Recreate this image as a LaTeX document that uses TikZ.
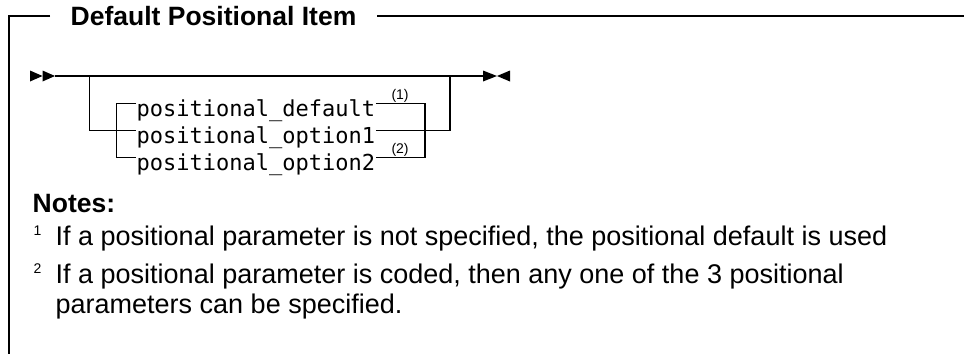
\documentclass[tikz,border=0pt]{standalone}
\usepackage{fontspec}
\setsansfont{Liberation Sans}
\setmonofont{DejaVu Sans Mono}
\usetikzlibrary{positioning}

\begin{document}
\begin{tikzpicture}[x=1pt, y=-1pt, line width=1.4pt]
		% Define styles
		\tikzstyle{heading}=[font=\sffamily\bfseries\fontsize{26.5}{31}\selectfont, inner sep=0pt]
		\tikzstyle{item}=[font=\ttfamily\fontsize{22}{26}\selectfont, inner sep=0pt, text height=30pt, text depth=5pt, anchor=west]
		\tikzstyle{fnref}=[font=\sffamily\fontsize{14}{16}\selectfont, inner sep=0pt]
		\tikzstyle{fnnum}=[font=\sffamily\fontsize{14}{16}\selectfont, inner sep=0pt, anchor=base west]
		\tikzstyle{note}=[font=\sffamily\fontsize{27}{32}\selectfont, inner sep=0pt, anchor=base west]
		\tikzstyle{tip}=[fill=black, draw=none]
		
		\useasboundingbox (0,0) rectangle (964,354);
		
		% Frame with title
		\node[heading, inner xsep=20pt, anchor=west] (title) at (50,16) {Default Positional Item};
		\coordinate (corner) at (9,16);
		\coordinate (foot) at (9,354);
		\coordinate (edge) at (964,16);
		\draw (title.west) -- (corner) -- (foot);
		\draw (title.east) -- (edge);
		
		% Main line
		\coordinate (in) at (55,76);
		\coordinate (out) at (483,76);
		\fill[tip] (30,70.5) -- (42.5,76) -- (30,81.5) -- cycle;
		\fill[tip] (42.5,70.5) -- (in) -- (42.5,81.5) -- cycle;
		\fill[tip] (out) -- (483,70.5) -- (497,76) -- (483,81.5) -- cycle;
		\fill[tip] (510,70.5) -- (497,76) -- (510,81.5) -- cycle;
		\draw (in) -- (out);
		
		% Choices
		\node[item] (default) at (136,103.5) {positional\_default};
		\node[item] (option1) at (136,130.5) {positional\_option1};
		\node[item] (option2) at (136,157.5) {positional\_option2};
		\node[fnref, above right=0.5pt and 15pt of default.east] (ref1) {(1)};
		\node[fnref, above right=0.5pt and 15pt of option2.east] (ref2) {(2)};
		
		% Outer and inner branches
		\coordinate (ol) at (89.5,76);
		\coordinate (or) at (450,76);
		\draw (ol) |- (option1.west);
		\draw (option1.east) -| (or);
		\draw (default.west) -- ++(-19.5,0) |- (option2.west);
		\draw (default.east) -- ++(49,0) |- (option2.east);
		
		% Notes
		\node[heading, anchor=base west] (notes) at (32,212) {Notes:};
		\node[fnnum] (num1) at (33,235) {1};
		\node[note] (note1) at (55,245) {If a positional parameter is not specified, the positional default is used};
		\node[fnnum] (num2) at (33,273) {2};
		\node[note] (note2) at (55,283) {If a positional parameter is coded, then any one of the 3 positional};
		\node[note] (note3) at (55,313) {parameters can be specified.};
		
	\end{tikzpicture}
\end{document}
